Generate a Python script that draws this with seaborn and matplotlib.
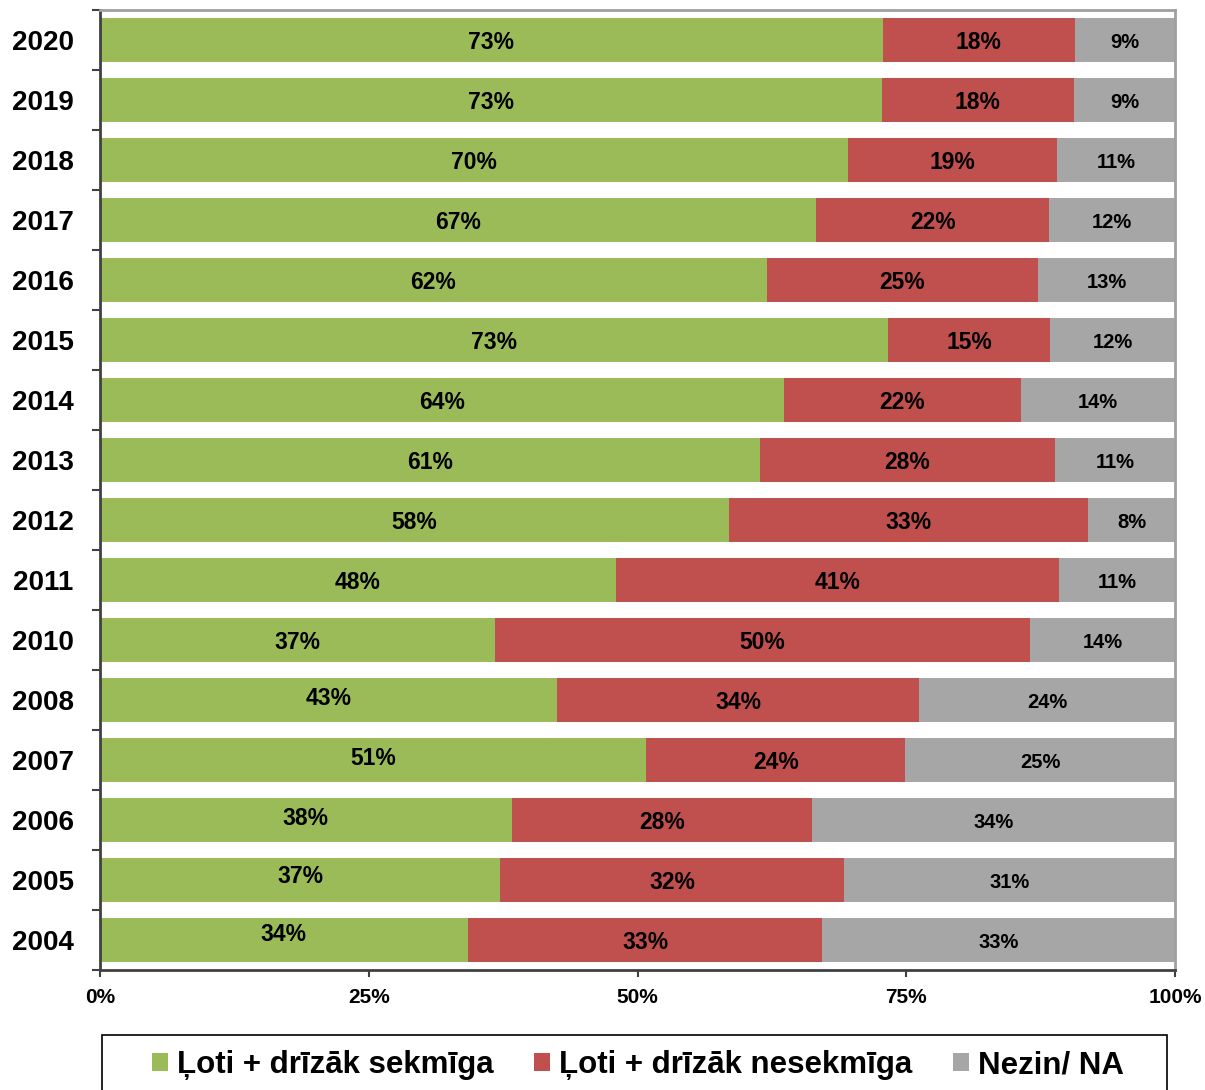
import numpy as np
import pandas as pd
import matplotlib
matplotlib.use("Agg")
import matplotlib.pyplot as plt
from matplotlib.patches import Patch, Rectangle
import seaborn as sns

years = ["2020", "2019", "2018", "2017", "2016", "2015", "2014", "2013",
	"2012", "2011", "2010", "2008", "2007", "2006", "2005", "2004"]
# bar lengths (percent)
sekmiga = [72.8, 72.7, 69.6, 66.6, 62.0, 73.3, 63.6, 61.4, 58.5, 48.0, 36.7, 42.5, 50.8, 38.3, 37.2, 34.2]
nesekmiga = [17.9, 17.9, 19.4, 21.7, 25.3, 15.1, 22.1, 27.4, 33.4, 41.2, 49.8, 33.7, 24.1, 27.9, 32.0, 33.0]
nezin = [9.3, 9.4, 11.0, 11.7, 12.7, 11.6, 14.3, 11.2, 8.1, 10.8, 13.5, 23.8, 25.1, 33.8, 30.8, 32.8]
# printed labels
lab_g = ["73%", "73%", "70%", "67%", "62%", "73%", "64%", "61%", "58%", "48%", "37%", "43%", "51%", "38%", "37%", "34%"]
lab_r = ["18%", "18%", "19%", "22%", "25%", "15%", "22%", "28%", "33%", "41%", "50%", "34%", "24%", "28%", "32%", "33%"]
lab_n = ["9%", "9%", "11%", "12%", "13%", "12%", "14%", "11%", "8%", "11%", "14%", "24%", "25%", "34%", "31%", "33%"]
series = ["Ļoti + drīzāk sekmīga", "Ļoti + drīzāk nesekmīga", "Nezin/ NA"]

c_green = "#9BBB59"
c_red = "#C0504D"
c_gray = "#A6A6A6"

df = pd.DataFrame({"year": years, "g": sekmiga, "r": nesekmiga, "n": nezin})
df["gr"] = df.g + df.r
df["tot"] = df.gr + df.n

sns.set_style("white")
plt.rcParams["font.family"] = ["Liberation Sans", "DejaVu Sans"]
plt.rcParams["font.weight"] = "bold"
plt.rcParams["text.color"] = "black"
plt.rcParams["xtick.labelcolor"] = "black"
plt.rcParams["ytick.labelcolor"] = "black"

fig = plt.figure(figsize=(12.05, 10.9), dpi=100)
ax = fig.add_axes([100/1205, 1-970/1090, 1075/1205, 960/1090])

sns.barplot(data=df, x="tot", y="year", order=years, color=c_gray, width=0.72, orient="h", linewidth=0, saturation=1, ax=ax)
sns.barplot(data=df, x="gr", y="year", order=years, color=c_red, width=0.72, orient="h", linewidth=0, saturation=1, ax=ax)
sns.barplot(data=df, x="g", y="year", order=years, color=c_green, width=0.72, orient="h", linewidth=0, saturation=1, ax=ax)

# green labels of the older years sit a bit higher
g_raise = [0]*11 + [4, 4, 4, 6, 8]
for i in range(len(years)):
	g, r, n = df.g[i], df.r[i], df.n[i]
	ax.annotate(lab_g[i], xy=(g/2, i), xytext=(0, g_raise[i]), textcoords="offset pixels",
		ha="center", va="center_baseline", fontsize=16.5, fontweight="bold", color="black")
	ax.text(g + r/2, i, lab_r[i], ha="center", va="center_baseline", fontsize=16.5, fontweight="bold", color="black")
	ax.text(g + r + n/2, i, lab_n[i], ha="center", va="center_baseline", fontsize=14.5, fontweight="bold", color="black")

ax.set_xlim(0, 100)
ax.set_ylim(len(years) - 0.5, -0.5)
ax.set_xlabel("")
ax.set_ylabel("")
ax.set_xticks([0, 25, 50, 75, 100])
ax.set_xticklabels(["0%", "25%", "50%", "75%", "100%"], fontsize=15, fontweight="bold")
ax.tick_params(axis="x", direction="out", length=5, width=1.5, color="#404040", pad=8, bottom=True)
ax.set_yticks(range(len(years)))
ax.set_yticklabels(years, fontsize=20, fontweight="bold")
ax.tick_params(axis="y", which="major", length=0, pad=19)
ax.set_yticks(np.arange(-0.5, len(years)), minor=True)
ax.tick_params(axis="y", which="minor", direction="out", length=6, width=1.5, color="#404040", left=True)

for s in ["left", "bottom"]:
	ax.spines[s].set_color("#404040")
	ax.spines[s].set_linewidth(2)
for s in ["top", "right"]:
	ax.spines[s].set_color("#A0A0A0")
	ax.spines[s].set_linewidth(2)

# legend with its own frame
fig.patches.append(Rectangle((102/1205, -0.01), 1065/1205, 1-1035/1090 + 0.01,
	transform=fig.transFigure, fill=False, edgecolor="black", linewidth=1.2))
handles = [Patch(facecolor=c, edgecolor="none", label=l) for c, l in zip([c_green, c_red, c_gray], series)]
fig.legend(handles=handles, loc="center", bbox_to_anchor=(638/1205, 1-1065/1090), ncol=3, frameon=False,
	prop={"size": 22.5, "weight": "bold"}, handlelength=0.5, handleheight=0.5, handletextpad=0.3,
	columnspacing=1.3, borderpad=0)

plt.savefig("out.png", dpi=100)
plt.close()
